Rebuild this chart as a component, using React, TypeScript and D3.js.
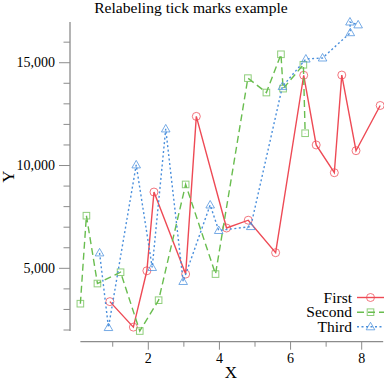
import React from 'react';
import * as d3 from 'd3';

// values
const firstX = [0.92, 1.58, 1.96, 2.16, 3.05, 3.35, 4.2, 4.81, 5.58, 6.37, 6.72, 7.23, 7.44, 7.84, 8.52];
const firstY = [3380, 2140, 4880, 8710, 4720, 12390, 6960, 7340, 5760, 14390, 11000, 9650, 14400, 10720, 12920];

const secondX = [0.09, 0.26, 0.57, 1.22, 1.76, 2.29, 3.05, 3.89, 4.8, 5.32, 5.73, 5.79, 6.36, 6.41];
const secondY = [3280, 7560, 4260, 4810, 1950, 3450, 9080, 4720, 14250, 13550, 15410, 13740, 14900, 11570];

const thirdX = [0.63, 0.88, 1.66, 2.11, 2.49, 2.98, 3.74, 3.98, 4.88, 5.77, 6.43, 6.9, 7.68, 7.67, 7.9];
const thirdY = [5750, 2120, 10030, 5040, 11780, 4360, 8080, 6840, 7030, 13840, 15180, 15230, 16460, 16980, 16840];

const seriesNames = ['First', 'Second', 'Third'];
const xMajorTicks = [2, 4, 6, 8];
const xMinorTicks = [1, 3, 5, 7];
const yMajorTicks = [5000, 10000, 15000];
const yMinorTicks = [2000, 3000, 4000, 6000, 7000, 8000, 9000, 11000, 12000, 13000, 14000, 16000];

const W = 384;
const H = 384;
const font = '"Liberation Serif", "Times New Roman", serif';
const axisColor = '#8c8c8c';

const styles = [
  { color: '#ee4a55', dash: null as string | null, marker: 'circle' },
  { color: '#69bd4f', dash: '7,4', marker: 'square' },
  { color: '#4a8fdc', dash: '2,2.5', marker: 'triangle' },
];

const Marker: React.FC<{ kind: string; x: number; y: number; color: string }> = ({ kind, x, y, color }) => {
  const common = { fill: 'none', stroke: color, strokeWidth: 1, strokeOpacity: 0.75 };
  if (kind === 'circle') return <circle cx={x} cy={y} r={4} {...common} />;
  if (kind === 'square') return <rect x={x - 3.3} y={y - 3.3} width={6.6} height={6.6} {...common} />;
  return <path d={`M${x},${y - 4.5}L${x + 4.3},${y + 3}L${x - 4.3},${y + 3}Z`} {...common} />;
};

const App: React.FC = () => {
  const series = [
    d3.zip(firstX, firstY),
    d3.zip(secondX, secondY),
    d3.zip(thirdX, thirdY),
  ] as [number, number][][];

  // scales fitted to the tick positions in the picture
  const x = d3.scaleLinear().domain([2, 8]).range([148.3, 361.7]);
  const y = d3.scaleLinear().domain([2000, 17000]).range([330, 21.6]);

  const allX = [...firstX, ...secondX, ...thirdX];
  const allY = [...firstY, ...secondY, ...thirdY];
  const [xMin, xMax] = d3.extent(allX) as [number, number];
  const [yMin, yMax] = d3.extent(allY) as [number, number];

  const axisX = 70;
  const axisY = 341.7;

  const line = d3.line<[number, number]>()
    .x(d => x(d[0]))
    .y(d => y(d[1]));

  const legendY = [297.5, 312.2, 326.8];

  return (
    <svg width={W} height={H} style={{ position: 'absolute', left: 0, top: 0, background: '#fff' }} fontFamily={font}>
      <text x={191} y={12.5} textAnchor="middle" fontSize={15.6}>Relabeling tick marks example</text>

      {/* y axis */}
      <line x1={axisX} x2={axisX} y1={y(yMin)} y2={y(yMax)} stroke={axisColor} strokeWidth={1.3} />
      {yMinorTicks.map(t => (
        <line key={t} x1={axisX - 6.5} x2={axisX} y1={y(t)} y2={y(t)} stroke={axisColor} strokeWidth={1} />
      ))}
      {yMajorTicks.map(t => (
        <g key={t}>
          <line x1={axisX - 11} x2={axisX} y1={y(t)} y2={y(t)} stroke={axisColor} strokeWidth={1} />
          <text x={axisX - 15} y={y(t)} dy="0.33em" textAnchor="end" fontSize={14}>{d3.format(',')(t)}</text>
        </g>
      ))}
      <text transform={`translate(13.5,${(y(yMin) + y(yMax)) / 2}) rotate(-90)`} textAnchor="middle" fontSize={17}>Y</text>

      {/* x axis */}
      <line x1={x(xMin)} x2={x(xMax) + 3} y1={axisY} y2={axisY} stroke={axisColor} strokeWidth={1.3} />
      {xMinorTicks.map(t => (
        <line key={t} x1={x(t)} x2={x(t)} y1={axisY} y2={axisY + 5} stroke={axisColor} strokeWidth={1} />
      ))}
      {xMajorTicks.map(t => (
        <g key={t}>
          <line x1={x(t)} x2={x(t)} y1={axisY} y2={axisY + 8} stroke={axisColor} strokeWidth={1} />
          <text x={x(t)} y={362.5} textAnchor="middle" fontSize={14}>{t}</text>
        </g>
      ))}
      <text x={231} y={378} textAnchor="middle" fontSize={17}>X</text>

      {/* series */}
      {series.map((pts, i) => (
        <g key={i}>
          <path d={line(pts) ?? ''} fill="none" stroke={styles[i].color} strokeWidth={1.4}
            strokeDasharray={styles[i].dash ?? undefined} />
          {pts.map((p, j) => (
            <Marker key={j} kind={styles[i].marker} x={x(p[0])} y={y(p[1])} color={styles[i].color} />
          ))}
        </g>
      ))}

      {/* legend */}
      {seriesNames.map((name, i) => (
        <g key={name}>
          <text x={352} y={legendY[i]} dy="0.33em" textAnchor="end" fontSize={15.5}>{name}</text>
          <line x1={357} x2={386} y1={legendY[i]} y2={legendY[i]} stroke={styles[i].color} strokeWidth={1.4}
            strokeDasharray={styles[i].dash ?? undefined} />
          <Marker kind={styles[i].marker} x={370.5} y={legendY[i]} color={styles[i].color} />
        </g>
      ))}
    </svg>
  );
};

export default App;
